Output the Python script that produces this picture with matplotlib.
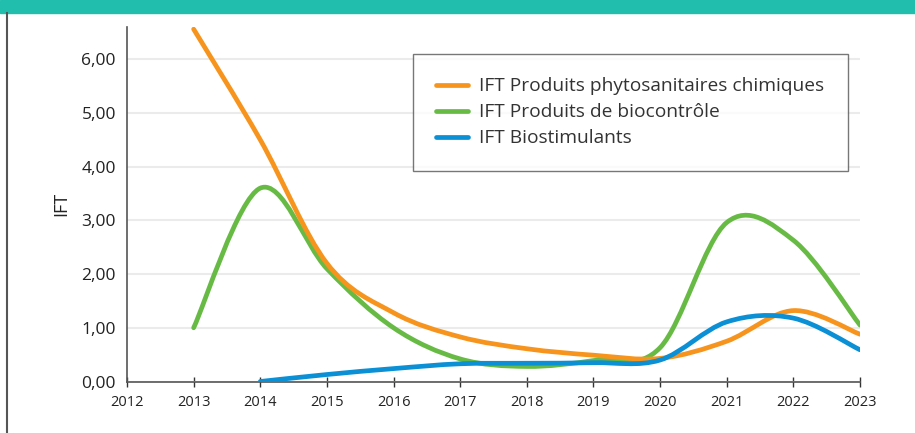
import matplotlib.pyplot as plt
from matplotlib.path import Path
from matplotlib.patches import PathPatch, Rectangle
from matplotlib.lines import Line2D

years = [2013, 2014, 2015, 2016, 2017, 2018, 2019, 2020, 2021, 2022, 2023]
chimiques = [6.56, 4.5, 2.2, 1.28, 0.83, 0.61, 0.49, 0.43, 0.75, 1.32, 0.88]
biocontrole = [1.0, 3.6, 2.1, 1.0, 0.42, 0.28, 0.39, 0.63, 2.96, 2.63, 1.05]
bio_years = [2014, 2015, 2016, 2017, 2018, 2019, 2020, 2021, 2022, 2023]
biostimulants = [0.0, 0.13, 0.24, 0.33, 0.34, 0.35, 0.40, 1.11, 1.18, 0.59]

labels = ['IFT Produits phytosanitaires chimiques',
          'IFT Produits de biocontrôle',
          'IFT Biostimulants']
colors = ['#f7941d', '#67bb45', '#0b8fd5']
yticks = [0, 1, 2, 3, 4, 5, 6]
ytick_labels = ['0,00', '1,00', '2,00', '3,00', '4,00', '5,00', '6,00']

plt.rcParams['font.family'] = ['Open Sans', 'DejaVu Sans']


def smooth_path(x, y):
    # excel-like smoothed line: bezier segments through every point
    pts = list(zip(x, y))
    verts = [pts[0]]
    codes = [Path.MOVETO]
    n = len(pts)
    for i in range(n - 1):
        p0 = pts[i - 1] if i > 0 else pts[i]
        p1 = pts[i]
        p2 = pts[i + 1]
        p3 = pts[i + 2] if i + 2 < n else pts[i + 1]
        c1 = (p1[0] + (p2[0] - p0[0]) / 6, p1[1] + (p2[1] - p0[1]) / 6)
        c2 = (p2[0] - (p3[0] - p1[0]) / 6, p2[1] - (p3[1] - p1[1]) / 6)
        verts += [c1, c2, p2]
        codes += [Path.CURVE4] * 3
    return Path(verts, codes)


fig = plt.figure(figsize=(9.15, 4.33), dpi=100)
ax = fig.add_axes([127 / 915, 51.5 / 433, 733 / 915, 354.5 / 433])

lw = 3.4
series = [(years, biocontrole, colors[1]),
          (years, chimiques, colors[0]),
          (bio_years, biostimulants, colors[2])]
for xs, ys, c in series:
    patch = PathPatch(smooth_path(xs, ys), facecolor='none', edgecolor=c,
                      lw=lw, capstyle='round', joinstyle='round', zorder=3)
    ax.add_patch(patch)

ax.set_xlim(2012, 2023)
ax.set_ylim(0, 6.6)
ax.set_xticks(range(2012, 2024))
ax.set_yticks(yticks)
ax.set_yticklabels(ytick_labels, fontsize=12.5, color='#222222')
ax.tick_params(axis='x', direction='inout', length=7, width=1, color='#333333',
               labelsize=10.5, labelcolor='#222222', pad=6)
ax.tick_params(axis='y', length=0, pad=8)
ax.grid(axis='y', color='#ebebeb', lw=1.5, zorder=0)
ax.set_axisbelow(True)
for s in ['top', 'right']:
    ax.spines[s].set_visible(False)
for s in ['left', 'bottom']:
    ax.spines[s].set_color('#555555')
    ax.spines[s].set_linewidth(1.2)
ax.set_ylabel('IFT', fontsize=13, color='#222222', labelpad=8)

handles = [Line2D([], [], color=c, lw=lw, solid_capstyle='round') for c in colors]
leg = ax.legend(handles, labels, loc='upper left',
                bbox_to_anchor=(413 / 915, 1 - 54 / 433),
                bbox_transform=fig.transFigure, borderaxespad=0,
                fontsize=13.8, frameon=True, fancybox=False,
                borderpad=1.22, labelspacing=0.42, handlelength=1.67,
                handletextpad=0.57)
leg.get_frame().set_edgecolor('#555555')
leg.get_frame().set_linewidth(1)
for t in leg.get_texts():
    t.set_color('#333333')

# teal band and left rule
fig.patches.append(Rectangle((0, 1 - 13 / 433), 1, 13 / 433,
                             transform=fig.transFigure, color='#22bead', zorder=0))
fig.add_artist(Line2D([7 / 915, 7 / 915], [0, 1 - 13 / 433],
                      transform=fig.transFigure, color='#555555', lw=1.5))

fig.savefig('out.png', dpi=100)
